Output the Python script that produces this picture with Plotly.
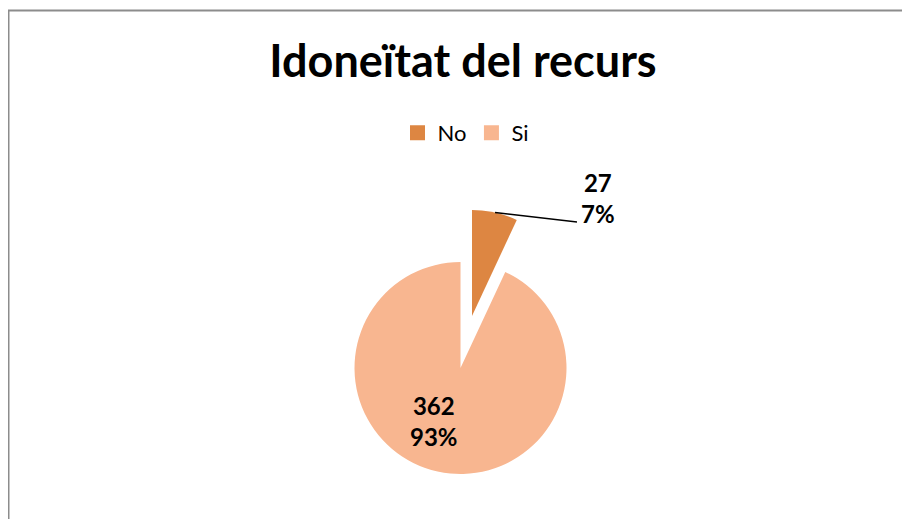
import plotly.graph_objects as go

# ---- data ----
categories = ["No", "Si"]
values = [27, 362]
colors = ["#DD8642", "#F8B690"]
title_text = "Idoneïtat del recurs"

# page body has an 8px margin; figure sized to fit window
OFF = 8
W, H = 910 - OFF, 519 - OFF
FONT = "Lato"

total = sum(values)
pcts = [round(100 * v / total) for v in values]

def px(x):
    return (x - OFF) / W

def py(y):
    return 1 - (y - OFF) / H

def dom(cx, cy, r):
    return dict(x=[px(cx - r), px(cx + r)], y=[py(cy + r), py(cy - r)])

# pie geometry (page pixels)
cxA, cyA, R = 460.5, 368, 106
pull_dx, pull_dy = 11.5, -52

fig = go.Figure()

# main pie (Si visible), No slice invisible here
fig.add_trace(go.Pie(
    labels=categories, values=values, sort=False, direction="clockwise", rotation=0,
    marker=dict(colors=["rgba(0,0,0,0)", colors[1]], line=dict(width=0)),
    textinfo="none", showlegend=False, domain=dom(cxA, cyA, R), hoverinfo="label+value+percent",
))
# exploded No slice
fig.add_trace(go.Pie(
    labels=categories, values=values, sort=False, direction="clockwise", rotation=0,
    marker=dict(colors=[colors[0], "rgba(0,0,0,0)"], line=dict(width=0)),
    textinfo="none", showlegend=False, domain=dom(cxA + pull_dx, cyA + pull_dy, R),
    hoverinfo="label+value+percent",
))
# legend entries
for c, col in zip(categories, colors):
    fig.add_trace(go.Scatter(x=[None], y=[None], mode="markers", name=c,
                             marker=dict(symbol="square", size=15, color=col)))

annotations = [
    dict(text=f"<b>{values[1]}<br>{pcts[1]}%</b>", x=px(434), y=py(421),
         xanchor="center", yanchor="middle",
         xref="paper", yref="paper", showarrow=False,
         font=dict(family=FONT, size=24, color="black")),
    dict(text=f"<b>{values[0]}<br>{pcts[0]}%</b>", x=px(598), y=py(198),
         xanchor="center", yanchor="middle",
         xref="paper", yref="paper", showarrow=False,
         font=dict(family=FONT, size=24, color="black")),
]

shapes = [
    dict(type="rect", xref="paper", yref="paper", x0=px(8.5), y0=-0.05, x1=1.05, y1=py(10.5),
         line=dict(color="#8c8c8c", width=2), fillcolor="rgba(0,0,0,0)"),
    dict(type="line", xref="paper", yref="paper", x0=px(495), y0=py(212.5),
         x1=px(577), y1=py(222), line=dict(color="black", width=1.5)),
]

fig.update_layout(
    width=W, height=H,
    margin=dict(l=0, r=0, t=0, b=0),
    paper_bgcolor="white", plot_bgcolor="white",
    title=dict(text=f"<b>{title_text}</b>", x=px(463), xanchor="center",
               y=py(61), yanchor="middle", yref="container", xref="container",
               font=dict(family=FONT, size=45, color="black")),
    legend=dict(orientation="h", x=px(466), xanchor="center", y=py(133), yanchor="middle",
                font=dict(family=FONT, size=22, color="black"), bgcolor="rgba(0,0,0,0)"),
    xaxis=dict(visible=False), yaxis=dict(visible=False),
    annotations=annotations, shapes=shapes,
)

fig.write_html("out.html")
